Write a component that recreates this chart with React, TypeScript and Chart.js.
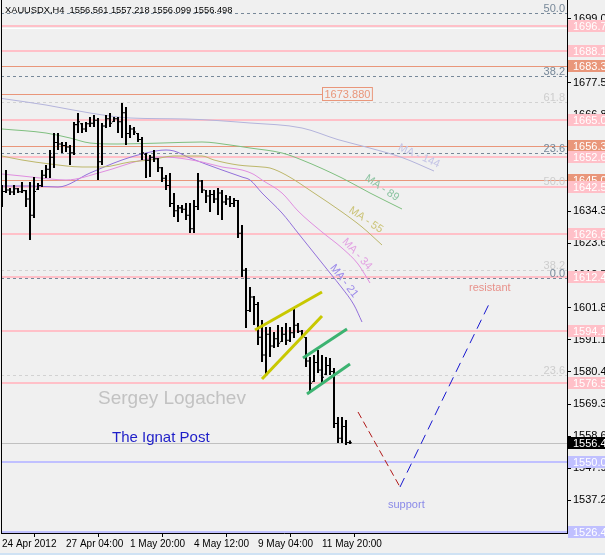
import { useEffect, useRef } from "react";
import { Chart, registerables } from "chart.js";

Chart.register(...registerables);

const FONT = '"Liberation Sans", Arial, sans-serif';

const titleText = "XAUUSDX,H4  1556.561 1557.218 1556.099 1556.498";

// x axis: bar index ticks and their labels
const xTickIndex = [0, 16, 32, 48, 64, 80];
const xTickLabels = ["24 Apr 2012", "27 Apr 04:00", "1 May 20:00", "4 May 12:00", "9 May 04:00", "11 May 20:00"];
// right price axis ticks
const yTickValues = [1699.03, 1688.31, 1677.59, 1666.87, 1656.15, 1645.1, 1634.38, 1623.66, 1612.77, 1601.88, 1591.16, 1580.44, 1569.39, 1558.67, 1547.95, 1537.23, 1526.51];

// H4 OHLC bars
const barHigh = [1643.20, 1648.24, 1642.19, 1643.20, 1642.19, 1644.20, 1641.51, 1644.20, 1645.88, 1643.87,
  1648.24, 1649.92, 1654.97, 1660.68, 1660.68, 1657.66, 1657.66, 1656.65, 1664.38, 1667.41,
  1664.05, 1664.38, 1666.06, 1666.74, 1665.73, 1664.05, 1666.74, 1667.41, 1666.06, 1666.06,
  1670.78, 1669.43, 1663.37, 1662.70, 1660.68, 1659.34, 1653.96, 1653.28, 1654.97, 1652.27,
  1649.25, 1646.56, 1647.23, 1640.50, 1636.46, 1636.46, 1637.14, 1637.14, 1638.15, 1647.23,
  1644.88, 1641.51, 1641.51, 1641.51, 1642.19, 1641.51, 1639.83, 1639.49, 1638.82, 1638.15,
  1629.74, 1615.28, 1608.88, 1605.86, 1603.84, 1597.78, 1595.43, 1595.43, 1593.75, 1596.10,
  1595.43, 1596.77, 1595.43, 1602.16, 1596.77, 1594.42, 1592.06, 1585.34, 1586.01, 1587.69,
  1586.01, 1585.34, 1585.00, 1581.64, 1565.16, 1565.16, 1564.15, 1557.218];
const barLow = [1635.79, 1640.50, 1639.83, 1639.83, 1640.50, 1640.50, 1635.79, 1624.69, 1632.09, 1641.51,
  1642.53, 1645.55, 1645.55, 1648.91, 1654.97, 1653.96, 1654.29, 1649.92, 1653.28, 1660.68,
  1660.68, 1661.02, 1662.70, 1662.70, 1644.88, 1649.92, 1662.37, 1662.70, 1664.38, 1660.68,
  1659.00, 1656.65, 1659.00, 1660.01, 1657.66, 1651.60, 1645.55, 1645.88, 1650.93, 1647.57,
  1644.20, 1641.51, 1635.79, 1632.43, 1630.75, 1633.77, 1631.42, 1627.05, 1627.05, 1634.78,
  1640.50, 1637.14, 1634.11, 1637.14, 1633.10, 1631.42, 1636.46, 1635.79, 1635.79, 1625.36,
  1612.25, 1595.09, 1600.48, 1596.10, 1589.37, 1583.66, 1579.29, 1585.34, 1588.37, 1588.70,
  1590.38, 1589.37, 1590.38, 1591.73, 1593.41, 1591.73, 1581.98, 1573.57, 1576.93, 1579.96,
  1576.60, 1579.29, 1579.29, 1561.46, 1556.42, 1556.42, 1555.75, 1556.099];
const barOpen = [1641.5, 1641.0, 1641.5, 1640.8, 1641.9, 1640.9, 1641.3, 1638.5, 1633.0, 1641.8,
  1643.0, 1646.5, 1648.5, 1652.5, 1657.5, 1657.0, 1656.5, 1656.0, 1654.0, 1663.5,
  1663.8, 1662.0, 1663.8, 1664.0, 1665.0, 1651.0, 1663.0, 1665.5, 1664.5, 1665.5,
  1664.5, 1667.5, 1660.5, 1662.0, 1660.5, 1658.5, 1653.5, 1651.5, 1652.5, 1652.0,
  1649.0, 1645.5, 1643.0, 1637.0, 1634.5, 1635.5, 1635.0, 1633.0, 1628.5, 1636.0,
  1644.5, 1641.5, 1639.5, 1640.0, 1638.5, 1640.5, 1637.5, 1638.5, 1637.0, 1638.0,
  1627.0, 1614.5, 1601.0, 1605.5, 1603.0, 1592.0, 1586.0, 1593.0, 1589.0, 1591.5,
  1590.5, 1593.0, 1591.0, 1593.5, 1596.0, 1594.0, 1592.0, 1584.0, 1577.0, 1583.5,
  1581.0, 1579.5, 1582.5, 1580.5, 1563.0, 1558.0, 1562.0, 1556.561];
const barClose = [1641.0, 1641.5, 1640.8, 1641.9, 1640.9, 1641.3, 1638.5, 1633.0, 1641.0, 1643.0,
  1646.5, 1648.5, 1652.5, 1657.5, 1657.0, 1656.5, 1656.0, 1654.0, 1663.5, 1664.5,
  1662.0, 1663.8, 1664.0, 1665.0, 1651.0, 1663.0, 1665.5, 1664.0, 1665.5, 1664.5,
  1667.5, 1660.5, 1662.0, 1661.0, 1658.5, 1654.0, 1651.5, 1652.5, 1652.0, 1649.0,
  1645.5, 1643.0, 1637.0, 1634.5, 1635.5, 1635.0, 1633.0, 1628.5, 1636.0, 1644.5,
  1641.5, 1639.5, 1640.0, 1638.5, 1640.5, 1637.5, 1638.5, 1637.0, 1638.0, 1627.0,
  1614.5, 1601.0, 1605.5, 1603.0, 1592.0, 1586.0, 1593.0, 1589.0, 1591.5, 1590.0,
  1593.0, 1591.0, 1593.5, 1596.0, 1594.0, 1592.5, 1584.0, 1576.5, 1583.5, 1581.0,
  1578.5, 1582.5, 1580.5, 1563.0, 1558.0, 1562.0, 1556.56, 1556.498];

// Moving averages (shifted), sampled at bar indices
const ma144Idx = [0, 11, 22, 32, 46, 62, 75, 84, 91, 100, 108];
const ma144Val = [1672.29, 1670.10, 1667.41, 1665.73, 1665.39, 1664.05, 1662.37, 1658.46, 1655.97, 1652.44, 1647.90];
const ma89Idx = [0, 11, 17, 22, 29, 40, 50, 57, 62, 70, 75, 85, 92, 100];
const ma89Val = [1662.03, 1660.68, 1659.00, 1657.32, 1656.98, 1657.32, 1657.66, 1656.65, 1655.64, 1653.96, 1651.60, 1645.55, 1640.50, 1635.12];
const ma55Idx = [0, 5, 12, 20, 25, 32, 37, 43, 50, 53, 59, 65, 67, 71, 78, 85, 90, 95];
const ma55Val = [1652.95, 1651.60, 1650.26, 1649.25, 1649.25, 1650.93, 1651.60, 1652.95, 1652.95, 1651.60, 1649.92, 1649.25, 1648.91, 1646.56, 1640.50, 1634.11, 1629.07, 1623.01];
const ma34Idx = [0, 5, 12, 16, 25, 35, 40, 43, 50, 55, 60, 63, 65, 70, 74, 80, 85, 89, 92];
const ma34Val = [1646.89, 1646.22, 1645.21, 1644.88, 1647.57, 1651.60, 1652.61, 1652.44, 1650.93, 1649.25, 1648.24, 1646.72, 1644.88, 1640.50, 1634.45, 1627.38, 1622.00, 1616.62, 1610.23];
const ma21Idx = [0, 7, 14, 22, 30, 36, 41, 43, 47, 55, 60, 62, 65, 70, 74, 78, 82, 85, 88, 90];
const ma21Val = [1642.86, 1642.86, 1642.52, 1647.23, 1651.60, 1653.96, 1654.97, 1654.63, 1652.27, 1648.24, 1645.88, 1644.88, 1640.50, 1633.77, 1627.05, 1620.32, 1613.59, 1608.55, 1602.83, 1597.11];

// MA labels
const maLabelText = ["MA - 144", "MA - 89", "MA - 55", "MA - 34", "MA - 21"];
const maLabelIdx = [104.25, 95, 91, 88.75, 85.5];
const maLabelPrice = [1652.95, 1642.18, 1631.42, 1620.0, 1610.9];
const maLabelAngle = [24, 34, 34, 47, 52];
const maLabelColor = ["#c4c4e6", "#8cc4a2", "#cbc377", "#e2a2e2", "#9a88ea"];

// channels
const yellow1Idx = [63.25, 80]; const yellow1Val = [1594.42, 1607.20];
const yellow2Idx = [65, 80]; const yellow2Val = [1577.94, 1599.13];
const green1Idx = [75.25, 86.25]; const green1Val = [1585.00, 1594.76];
const green2Idx = [76.25, 87]; const green2Val = [1572.90, 1583.00];

// projection
const redIdx = [89, 99.5]; const redVal = [1566.84, 1541.61];
const blueIdx = [99.5, 122]; const blueVal = [1541.61, 1603.84];

// horizontal levels
const pinkLevels = [1696.71, 1688.14, 1665.09, 1652.61, 1642.51, 1626.64, 1612.41, 1594.12, 1576.53];
const salmonLevels = [1683.34, 1656.35, 1645.02];
const blueLevels = [1550.08, 1526.40];
const bidPrice = 1556.498;
const whiteLevel = 1695.9;
const rayPrice = 1673.88;
const rayEndIdx = 80;
const fibDarkLevels = [1700.95, 1679.86, 1653.96, 1611.90];
const fibDarkLabels = ["50.0", "38.2", "23.6", "0.0"];
const fibLightLevels = [1671.21, 1642.86, 1614.60, 1579.39];
const fibLightLabels = ["61.8", "50.0", "38.2", "23.6"];

// texts anchored in data space
const textItems = ["Sergey Logachev", "The Ignat Post", "resistant", "support"];
const textIdx = [24, 27.5, 116.75, 96.5];
const textPrice = [1571.21, 1558.09, 1608.55, 1535.56];
const textColor = ["#c2c2c2", "#1e1ec8", "#e8918a", "#8a8ae8"];
const textSize = [19, 15, 11, 11];

const PINK = "#ffc0c8";
const SALMON = "#e9967a";
const LAV = "#c0c0ff";

const pts = (xs: number[], ys: number[]) => xs.map((x, k) => ({ x, y: ys[k] }));

export default function App() {
  const ref = useRef<HTMLCanvasElement | null>(null);

  useEffect(() => {
    const canvas = ref.current;
    if (!canvas) return;

    const bgPlugin = {
      id: "bgfill",
      beforeDraw(c: any) {
        const ctx = c.ctx;
        ctx.save();
        ctx.fillStyle = "#f0f0f0";
        ctx.fillRect(0, 0, c.width, c.height);
        ctx.restore();
      },
    };

    const levelsPlugin = {
      id: "levels",
      beforeDatasetsDraw(c: any) {
        const { ctx, chartArea: a, scales } = c;
        const y = scales.y, x = scales.x;
        const py = (p: number) => Math.round(y.getPixelForValue(p));
        const w = a.right - a.left;
        ctx.save();
        ctx.beginPath();
        ctx.rect(a.left, a.top, w, a.bottom - a.top);
        ctx.clip();
        ctx.lineWidth = 1;
        ctx.setLineDash([3, 3]);
        ctx.strokeStyle = "#d2d2d2";
        fibLightLevels.forEach((p) => {
          const yy = py(p) + 0.5;
          ctx.beginPath(); ctx.moveTo(a.left, yy); ctx.lineTo(a.right, yy); ctx.stroke();
        });
        ctx.strokeStyle = "#778899";
        fibDarkLevels.forEach((p) => {
          const yy = py(p) + 0.5;
          ctx.beginPath(); ctx.moveTo(a.left, yy); ctx.lineTo(a.right, yy); ctx.stroke();
        });
        ctx.setLineDash([]);
        ctx.fillStyle = "#c0c0c0";
        ctx.fillRect(a.left, py(bidPrice), w, 1);
        ctx.fillStyle = "#ffffff";
        ctx.fillRect(a.left, py(whiteLevel), w, 1);
        ctx.fillStyle = PINK;
        pinkLevels.forEach((p) => ctx.fillRect(a.left, py(p) - 1, w, 2));
        ctx.fillStyle = LAV;
        blueLevels.forEach((p) => ctx.fillRect(a.left, py(p) - 1, w, 2));
        ctx.fillStyle = SALMON;
        salmonLevels.forEach((p) => ctx.fillRect(a.left, py(p), w, 1));
        const rx = Math.round(x.getPixelForValue(rayEndIdx));
        ctx.fillRect(a.left, py(rayPrice), rx - a.left, 1);
        ctx.restore();
      },
    };

    const annoPlugin = {
      id: "anno",
      afterDatasetsDraw(c: any) {
        const { ctx, chartArea: a, scales } = c;
        const y = scales.y, x = scales.x;
        ctx.save();
        ctx.font = `11px ${FONT}`;
        ctx.textAlign = "right";
        ctx.textBaseline = "alphabetic";
        ctx.fillStyle = "#cdcdcd";
        fibLightLevels.forEach((p, k) => ctx.fillText(fibLightLabels[k], a.right - 2, Math.round(y.getPixelForValue(p)) - 1));
        ctx.fillStyle = "#778899";
        fibDarkLevels.forEach((p, k) => ctx.fillText(fibDarkLabels[k], a.right - 2, Math.round(y.getPixelForValue(p)) - 1));
        const rx = Math.round(x.getPixelForValue(rayEndIdx));
        const ry = Math.round(y.getPixelForValue(rayPrice));
        ctx.font = `11px ${FONT}`;
        const tw = ctx.measureText("1673.880").width;
        ctx.fillStyle = "#f0f0f0";
        ctx.fillRect(rx, ry - 6, tw + 4, 13);
        ctx.strokeStyle = SALMON;
        ctx.lineWidth = 1;
        ctx.strokeRect(rx + 0.5, ry - 6.5, tw + 4, 13);
        ctx.fillStyle = SALMON;
        ctx.textAlign = "left";
        ctx.textBaseline = "middle";
        ctx.fillText("1673.880", rx + 2.5, ry + 0.5);
        ctx.textAlign = "center";
        ctx.textBaseline = "middle";
        ctx.font = `11px ${FONT}`;
        maLabelText.forEach((t, k) => {
          ctx.save();
          ctx.translate(x.getPixelForValue(maLabelIdx[k]), y.getPixelForValue(maLabelPrice[k]));
          ctx.rotate((maLabelAngle[k] * Math.PI) / 180);
          ctx.fillStyle = maLabelColor[k];
          ctx.fillText(t, 0, 0);
          ctx.restore();
        });
        ctx.textAlign = "left";
        textItems.forEach((t, k) => {
          ctx.font = `${textSize[k]}px ${FONT}`;
          ctx.fillStyle = textColor[k];
          ctx.fillText(t, x.getPixelForValue(textIdx[k]), y.getPixelForValue(textPrice[k]));
        });
        ctx.font = `9.3px ${FONT}`;
        ctx.fillStyle = "#000000";
        ctx.fillText(titleText, a.left + 4, 10);
        ctx.restore();
      },
    };

    const axisBoxPlugin = {
      id: "axisboxes",
      afterDraw(c: any) {
        const { ctx, chartArea: a, scales } = c;
        const y = scales.y;
        const items: { p: number; bg: string; fg: string; txt: string }[] = [];
        pinkLevels.forEach((p) => items.push({ p, bg: PINK, fg: "#ffffff", txt: p.toFixed(2) }));
        salmonLevels.forEach((p) => items.push({ p, bg: SALMON, fg: "#ffffff", txt: p.toFixed(2) }));
        blueLevels.forEach((p) => items.push({ p, bg: LAV, fg: "#ffffff", txt: p.toFixed(2) }));
        items.push({ p: bidPrice, bg: "#000000", fg: "#ffffff", txt: (Math.floor(bidPrice * 100) / 100).toFixed(2) });
        items.sort((m, n) => n.p - m.p);
        ctx.save();
        ctx.font = `11px ${FONT}`;
        ctx.textAlign = "left";
        ctx.textBaseline = "middle";
        items.forEach((it) => {
          const yy = Math.round(y.getPixelForValue(it.p));
          ctx.fillStyle = it.bg;
          ctx.fillRect(a.right + 1, yy - 6, 40, 12);
          ctx.fillStyle = it.fg;
          ctx.fillText(it.txt, a.right + 6, yy + 0.5);
        });
        ctx.fillStyle = "#000000";
        ctx.fillRect(1, 0, 1, a.bottom + 1);
        ctx.fillStyle = "#cfe2f4";
        ctx.fillRect(0, 553, c.width, 2);
        ctx.restore();
      },
    };

    const chart = new Chart(canvas, {
      type: "line",
      data: {
        datasets: [
          { type: "line", data: pts(ma144Idx, ma144Val), borderColor: "#b4b4dc", borderWidth: 1, pointRadius: 0, cubicInterpolationMode: "monotone", order: 10 },
          { type: "line", data: pts(ma89Idx, ma89Val), borderColor: "#7fbf7f", borderWidth: 1, pointRadius: 0, cubicInterpolationMode: "monotone", order: 10 },
          { type: "line", data: pts(ma55Idx, ma55Val), borderColor: "#bdb76b", borderWidth: 1, pointRadius: 0, cubicInterpolationMode: "monotone", order: 10 },
          { type: "line", data: pts(ma34Idx, ma34Val), borderColor: "#e08ee0", borderWidth: 1, pointRadius: 0, cubicInterpolationMode: "monotone", order: 10 },
          { type: "line", data: pts(ma21Idx, ma21Val), borderColor: "#9370db", borderWidth: 1, pointRadius: 0, cubicInterpolationMode: "monotone", order: 10 },
          {
            type: "bar",
            data: barHigh.map((h, i) => ({ x: i, y: [barLow[i], h] })) as any,
            backgroundColor: "#000000", barThickness: 2, grouped: false, inflateAmount: 0, borderWidth: 0, order: 5,
          },
          {
            type: "bar",
            data: barOpen.map((o, i) => ({ x: i - 0.375, y: [o - 0.17, o + 0.17] })) as any,
            backgroundColor: "#000000", barThickness: 1, grouped: false, inflateAmount: 0, borderWidth: 0, order: 5,
          },
          {
            type: "bar",
            data: barClose.map((cl, i) => ({ x: i + 0.375, y: [cl - 0.17, cl + 0.17] })) as any,
            backgroundColor: "#000000", barThickness: 1, grouped: false, inflateAmount: 0, borderWidth: 0, order: 5,
          },
          { type: "line", data: pts(yellow1Idx, yellow1Val), borderColor: "#c8c800", borderWidth: 3, pointRadius: 0, order: 2 },
          { type: "line", data: pts(yellow2Idx, yellow2Val), borderColor: "#c8c800", borderWidth: 3, pointRadius: 0, order: 2 },
          { type: "line", data: pts(green1Idx, green1Val), borderColor: "#3cb371", borderWidth: 3, pointRadius: 0, order: 2 },
          { type: "line", data: pts(green2Idx, green2Val), borderColor: "#3cb371", borderWidth: 3, pointRadius: 0, order: 2 },
          { type: "line", data: pts(redIdx, redVal), borderColor: "#b01818", borderWidth: 1, borderDash: [7, 4], pointRadius: 0, order: 1 },
          { type: "line", data: pts(blueIdx, blueVal), borderColor: "#1818d0", borderWidth: 1, borderDash: [10, 6], pointRadius: 0, order: 1 },
        ] as any,
      },
      options: {
        animation: false,
        responsive: false,
        devicePixelRatio: 1,
        events: [],
        layout: { autoPadding: false, padding: { left: 1, top: 0, right: 0, bottom: 0 } },
        plugins: { legend: { display: false }, tooltip: { enabled: false }, title: { display: false } },
        scales: {
          x: {
            type: "linear",
            min: -0.25,
            max: 141.25,
            offset: false,
            grid: { display: true, drawOnChartArea: false, drawTicks: true, tickLength: 4, color: "#000000" },
            border: { display: true, color: "#000000" },
            ticks: {
              autoSkip: false,
              maxRotation: 0,
              minRotation: 0,
              align: "start",
              padding: 1,
              color: "#000000",
              font: { family: FONT, size: 10 },
              callback: (_v: any, i: number) => xTickLabels[i],
            },
            afterBuildTicks: (s: any) => { s.ticks = xTickIndex.map((v) => ({ value: v })); },
            afterFit: (s: any) => { s.height = 22; s.paddingLeft = 0; s.paddingRight = 0; },
          },
          y: {
            type: "linear",
            position: "right",
            min: 1526.14,
            max: 1705.42,
            beginAtZero: false,
            grid: { display: true, drawOnChartArea: false, drawTicks: true, tickLength: 4, color: "#000000" },
            border: { display: true, color: "#000000" },
            ticks: {
              autoSkip: false,
              padding: 2,
              color: "#000000",
              font: { family: FONT, size: 11 },
              callback: (v: any) => Number(v).toFixed(2),
            },
            afterBuildTicks: (s: any) => { s.ticks = yTickValues.map((v) => ({ value: v })); },
            afterFit: (s: any) => { s.width = 38; s.paddingTop = 0; s.paddingBottom = 0; },
          },
        },
      } as any,
      plugins: [bgPlugin, levelsPlugin, annoPlugin, axisBoxPlugin],
    });

    return () => chart.destroy();
  }, []);

  return (
    <div style={{ position: "fixed", left: 0, top: 0, width: 605, height: 555, background: "#f0f0f0" }}>
      <canvas ref={ref} width={605} height={555} style={{ display: "block", width: 605, height: 555 }} />
    </div>
  );
}
